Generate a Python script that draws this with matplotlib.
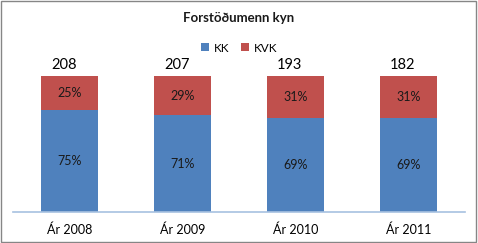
import matplotlib
matplotlib.use("Agg")
import matplotlib.pyplot as plt
from matplotlib.patches import Rectangle

plt.rcParams['font.family'] = ['Lato', 'DejaVu Sans']

categories = ["Ár 2008", "Ár 2009", "Ár 2010", "Ár 2011"]
kk = [75, 71, 69, 69]
kvk = [25, 29, 31, 31]
totals = [208, 207, 193, 182]
title = "Forstöðumenn kyn"

blue = "#4F81BD"
red = "#C0504D"

fig = plt.figure(figsize=(4.78, 2.43), dpi=100)
ax = fig.add_axes([13/478, 1-212/243, 452/478, 136/243])
x = list(range(len(categories)))
kk_frac = [v/100 for v in kk]
kvk_frac = [v/100 for v in kvk]
ax.bar(x, kk_frac, width=0.51, color=blue, label="KK")
ax.bar(x, kvk_frac, width=0.51, bottom=kk_frac, color=red, label="KVK")

for i in x:
    ax.text(i, kk_frac[i]/2, f"{kk[i]}%", ha='center', va='center', fontsize=9, color='#1a1a1a')
    ax.text(i, kk_frac[i] + kvk_frac[i]/2, f"{kvk[i]}%", ha='center', va='center', fontsize=9, color='#1a1a1a')
    ax.text(i - 0.05, 1.03, str(totals[i]), ha='center', va='bottom', fontsize=10.5, color='black', clip_on=False)

ax.set_xlim(-0.5, 3.5)
ax.set_ylim(0, 1)
ax.set_yticks([])
ax.set_xticks(x)
ax.set_xticklabels(categories, fontsize=9)
ax.tick_params(axis='x', length=0, pad=8)
for s in ['top', 'right', 'left']:
    ax.spines[s].set_visible(False)
ax.spines['bottom'].set_color('#A7C1E0')
ax.spines['bottom'].set_linewidth(1.2)

fig.text(0.5, 1-18/243, title, ha='center', va='center', fontsize=9.5, fontweight='bold', color='#1a1a1a')
leg = fig.legend(loc='center', bbox_to_anchor=(0.5, 1-48/243), ncol=2, frameon=False,
                 fontsize=8.5, handlelength=0.7, handleheight=0.7, handletextpad=0.4, columnspacing=1.0)

fig.patches.append(Rectangle((0.002, 0.004), 0.994, 0.99, transform=fig.transFigure,
                             fill=False, edgecolor='#868686', linewidth=1.0))

fig.savefig("out.png", dpi=100)
